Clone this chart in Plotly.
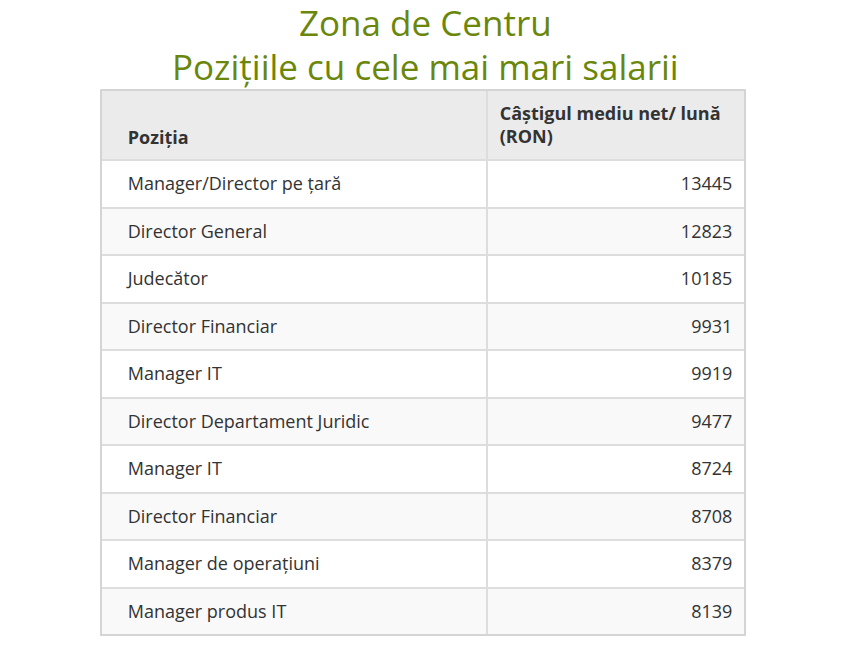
import plotly.graph_objects as go

positions = [
    "Manager/Director pe țară",
    "Director General",
    "Judecător",
    "Director Financiar",
    "Manager IT",
    "Director Departament Juridic",
    "Manager IT",
    "Director Financiar",
    "Manager de operațiuni",
    "Manager produs IT",
]
salaries = [13445, 12823, 10185, 9931, 9919, 9477, 8724, 8708, 8379, 8139]
header_pos = "Poziția"
header_val = ["Câștigul mediu net/ lună", "(RON)"]
title_lines = ["Zona de Centru", "Pozițiile cu cele mai mari salarii"]

# page body has an 8px margin, so figure coords = page coords - 8
W, H = 835, 631
OFF = 8
left, mid, right = 101 - OFF, 487 - OFF, 745 - OFF
top, bottom = 90 - OFF, 635 - OFF

NB = "\u00a0"


def shift(txt, px):
    # push text down inside the cell (table text is top-anchored)
    return f'<span style="baseline-shift:-{px}px">{txt}</span>'


row_fill = ["#ffffff" if i % 2 == 0 else "#f9f9f9" for i in range(len(positions))]

fig = go.Figure(go.Table(
    columnwidth=[mid - left, right - mid],
    header=dict(
        values=[
            NB + "<br>" + shift(NB * 4 + f"<b>{header_pos}</b>", 4),
            "<br>".join(NB + shift(f"<b>{t}</b>", 3) for t in header_val),
        ],
        fill_color="#ebebeb",
        line=dict(color="#dddddd", width=2),
        align=["left", "left"],
        font=dict(family="Open Sans", size=18, color="#333333"),
        height=70,
    ),
    cells=dict(
        # an unshifted nbsp keeps the line's top fixed; the trailing <br>
        # stops the table from re-wrapping the markup
        values=[
            [NB + shift(NB * 3 + p, 3) + "<br>" for p in positions],
            [shift(str(s), 3) + NB + "<br>" for s in salaries],
        ],
        fill_color=[row_fill, row_fill],
        line=dict(color="#dddddd", width=2),
        align=["left", "right"],
        font=dict(family="Open Sans", size=18, color="#333333"),
        height=47.5,
    ),
    domain=dict(x=[left / W, right / W], y=[0, 1 - top / H]),
))

for line, yc in zip(title_lines, [22, 66]):
    fig.add_annotation(
        text=line,
        x=0.5, y=1 - (yc - OFF) / H, xref="paper", yref="paper",
        xanchor="center", yanchor="middle",
        showarrow=False,
        font=dict(family="Open Sans", size=35, color="#6a870c"),
    )

fig.add_shape(
    type="rect", xref="paper", yref="paper",
    x0=left / W, x1=right / W, y0=1 - bottom / H, y1=1 - top / H,
    line=dict(color="#cccccc", width=1),
)

fig.update_layout(
    width=W, height=H,
    margin=dict(l=0, r=0, t=0, b=0),
    paper_bgcolor="white",
    plot_bgcolor="white",
)

fig.write_html("out.html")
